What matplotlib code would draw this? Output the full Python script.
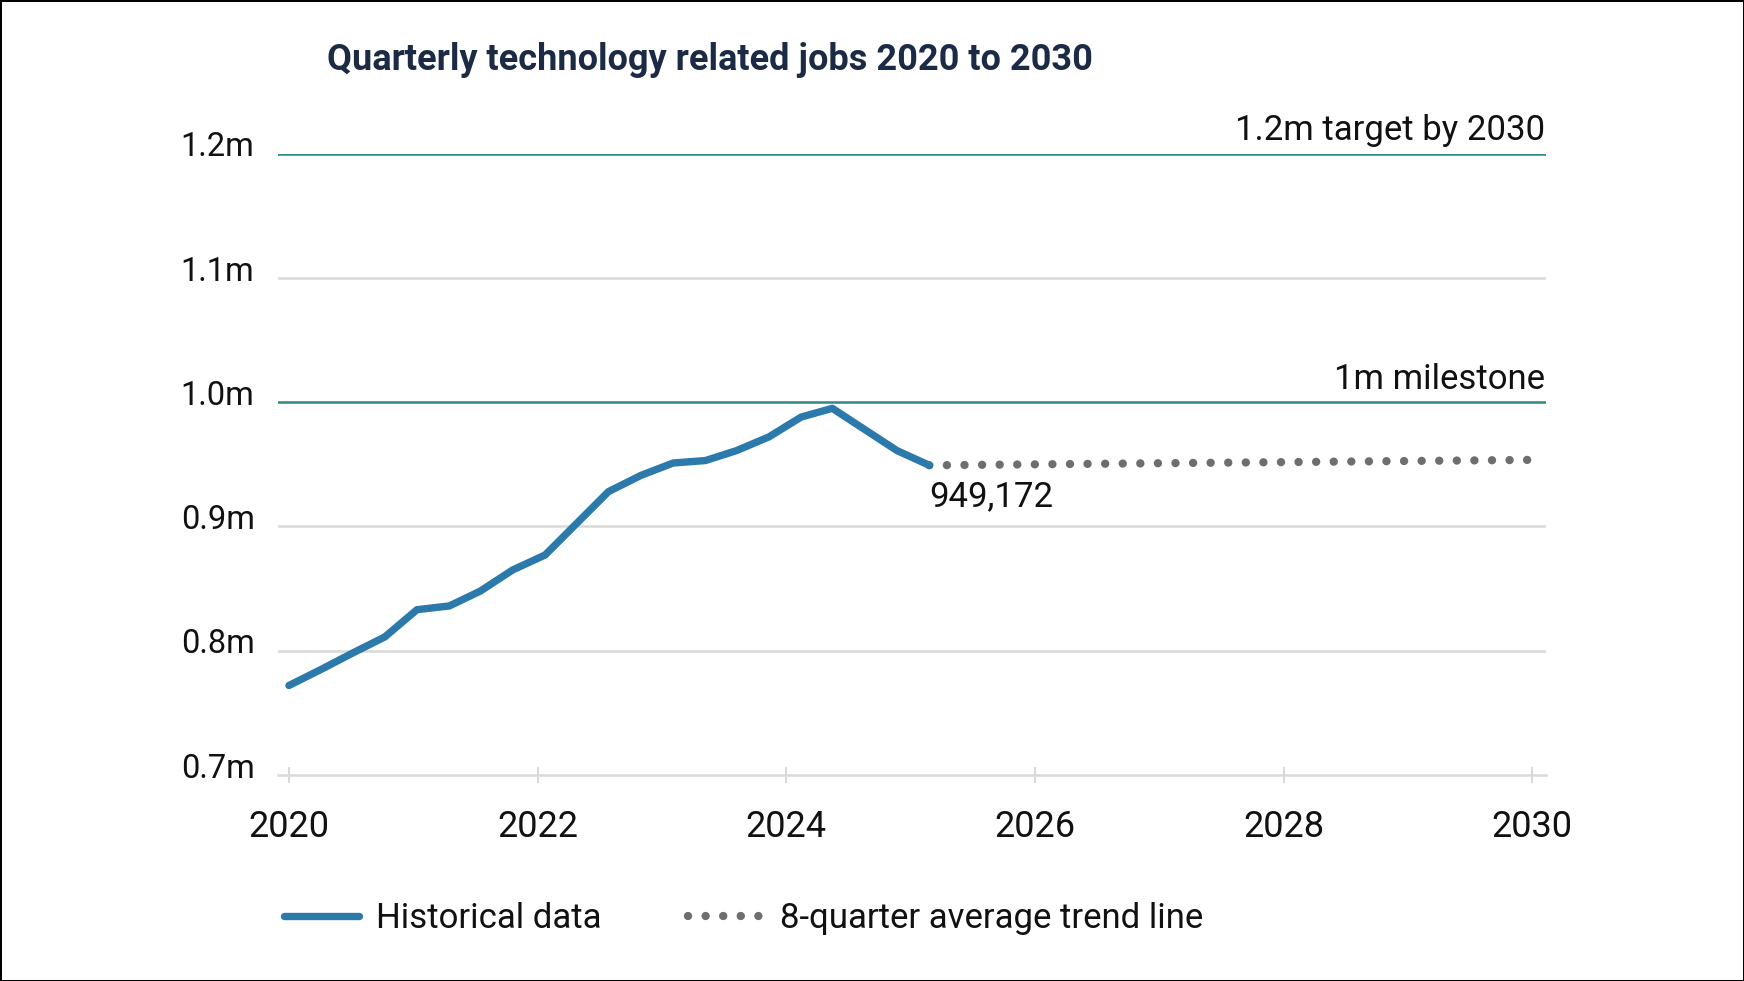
import matplotlib
matplotlib.use("Agg")
import matplotlib.pyplot as plt
from matplotlib import transforms

# %% Data ----------------------------------------------------------------------------------------------------------
# positions of the quarterly points (decimal years)
hist_x = [2020.00, 2020.26, 2020.51, 2020.77, 2021.03, 2021.29, 2021.54, 2021.80, 2022.06, 2022.32, 2022.57,
          2022.83, 2023.09, 2023.35, 2023.60, 2023.86, 2024.12, 2024.37, 2024.63, 2024.89, 2025.15]
hist_jobs = [0.772, 0.785, 0.798, 0.811, 0.833, 0.836, 0.848, 0.865, 0.877, 0.903, 0.928,
             0.941, 0.951, 0.953, 0.961, 0.972, 0.988, 0.995, 0.978, 0.961, 0.949172]

trend_x = [2025.15, 2029.97]
trend_jobs = [0.949172, 0.9535]

milestone = 1.0
target = 1.2

x_ticks = [2020, 2022, 2024, 2026, 2028, 2030]
y_ticks = [0.7, 0.8, 0.9, 1.0, 1.1, 1.2]
y_labels = ["0.7m", "0.8m", "0.9m", "1.0m", "1.1m", "1.2m"]

title = "Quarterly technology related jobs 2020 to 2030"
last_label = "949,172"

# %% Style ---------------------------------------------------------------------------------------------------------
plt.rcParams["font.family"] = ["Roboto", "DejaVu Sans"]
blue = "#2b7aab"
teal = "#2f8787"
grey_dots = "#6e6e6e"
grid_grey = "#d9d9d9"
text_col = "#111111"

fig = plt.figure(figsize=(17.44, 9.81), dpi=100, edgecolor="black", linewidth=2)
ax = fig.add_axes([0.1594, 0.2100, 0.7268, 0.6335])

# %% Plot ----------------------------------------------------------------------------------------------------------
for y in y_ticks[1:]:
    if y in (milestone, target):
        continue
    ax.axhline(y, color=grid_grey, lw=1.8, zorder=1)
ax.axhline(milestone, color=teal, lw=1.8, zorder=2)
ax.axhline(target, color=teal, lw=1.8, zorder=2)

hist_line, = ax.plot(hist_x, hist_jobs, color=blue, lw=5.3, solid_capstyle="round", solid_joinstyle="round",
                     zorder=4, label="Historical data")
trend_line, = ax.plot(trend_x, trend_jobs, color=grey_dots, lw=6.0, dashes=(0.01, 2.1), dash_capstyle="round",
                      zorder=3, label="8-quarter average trend line")

ax.set_xlim(2019.912, 2030.106)
ax.set_ylim(0.7, 1.2)

for side in ("top", "right", "left"):
    ax.spines[side].set_visible(False)
ax.spines["bottom"].set_color(grid_grey)
ax.spines["bottom"].set_linewidth(1.8)

ax.set_xticks(x_ticks)
ax.set_xticklabels([str(t) for t in x_ticks])
ax.tick_params(axis="x", direction="inout", length=11, width=1.5, color=grid_grey, pad=19,
               labelsize=26, labelcolor=text_col)

ax.set_yticks(y_ticks)
ax.set_yticklabels(y_labels)
ax.tick_params(axis="y", length=0, pad=70, labelsize=23.5, labelcolor=text_col)
shift = transforms.ScaledTranslation(0, 7 / 72, fig.dpi_scale_trans)
for lab in ax.get_yticklabels():
    lab.set_horizontalalignment("left")
    lab.set_transform(lab.get_transform() + shift)

# annotations
ax.text(2030.1, target + 0.005, "1.2m target by 2030", ha="right", va="bottom", fontsize=25, color=text_col)
ax.text(2030.1, milestone + 0.005, "1m milestone", ha="right", va="bottom", fontsize=25, color=text_col)
ax.text(hist_x[-1], hist_jobs[-1] - 0.012, last_label, ha="left", va="top", fontsize=25, color=text_col)

fig.text(0.1875, 0.939, title, ha="left", va="center", fontsize=26, fontweight="bold", color="#1c2b45")

fig.legend(handles=[hist_line, trend_line], loc="center left", bbox_to_anchor=(0.145, 0.064), ncol=2,
           frameon=False, fontsize=25, handlelength=2.15, handletextpad=0.5, columnspacing=2.5,
           labelcolor=text_col)

fig.savefig("out.png", dpi=100)
